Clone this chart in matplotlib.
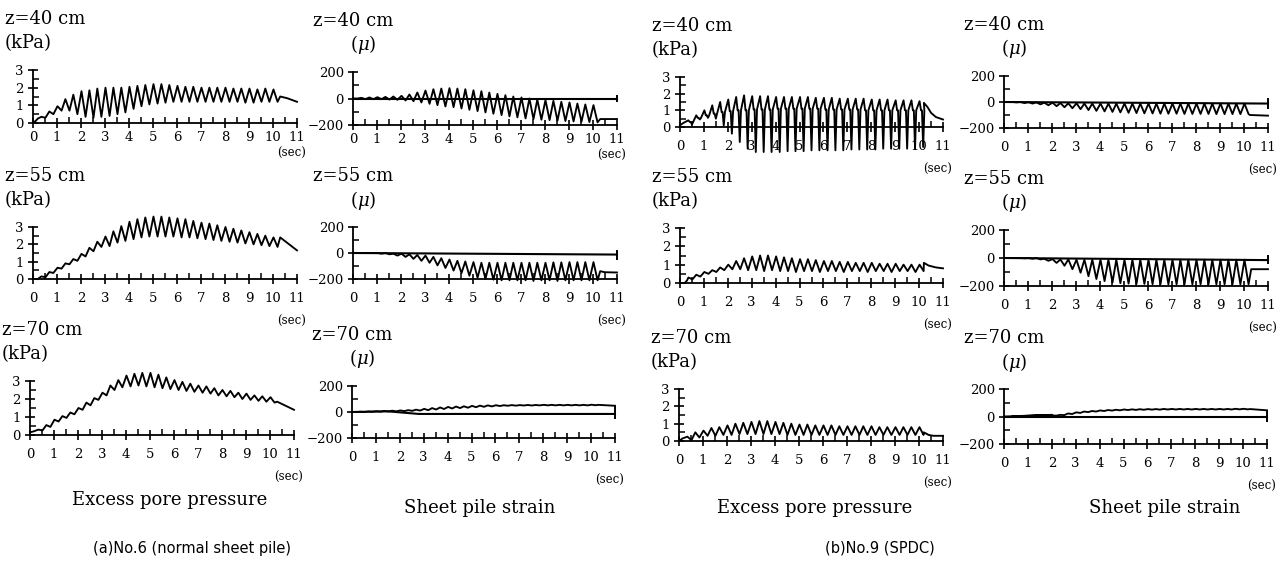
import matplotlib
matplotlib.use('Agg')
import matplotlib.pyplot as plt
from matplotlib.ticker import MultipleLocator

plt.rcParams['font.family'] = 'DejaVu Serif'
plt.rcParams['mathtext.fontset'] = 'dejavuserif'

W, H = 1285, 564

# peak times of the ~3 Hz shaking cycles (sec), trough follows half a cycle later
peak_t = [0.35, 0.68, 1.02, 1.35, 1.68, 2.02, 2.35, 2.68, 3.02, 3.35,
          3.68, 4.02, 4.35, 4.68, 5.02, 5.35, 5.68, 6.02, 6.35, 6.68,
          7.02, 7.35, 7.68, 8.02, 8.35, 8.68, 9.02, 9.35, 9.68, 10.02]
half_cycle = 0.17

# ---------- (a) No.6 normal sheet pile ----------
# excess pore pressure z=40 (kPa)
a40p_head_t = [0.0, 0.1, 0.2]
a40p_head_y = [0.05, 0.1, 0.25]
a40p_peak = [0.35, 0.65, 0.95, 1.35, 1.6, 1.8, 1.85, 1.95, 2.0, 2.0,
             2.0, 2.05, 2.1, 2.15, 2.2, 2.2, 2.15, 2.1, 2.05, 2.05,
             2.0, 2.0, 2.0, 2.0, 1.95, 1.95, 1.95, 1.9, 1.95, 1.9]
a40p_trough = [0.3, 0.5, 0.7, 0.7, 0.5, 0.35, 0.3, 0.35, 0.4, 0.5,
               0.6, 0.8, 0.95, 1.05, 1.1, 1.15, 1.2, 1.2, 1.2, 1.2,
               1.2, 1.2, 1.2, 1.2, 1.2, 1.15, 1.15, 1.2, 1.2, 1.2]
a40p_tail_t = [10.3, 10.6, 11.0]
a40p_tail_y = [1.5, 1.4, 1.2]

# sheet pile strain z=40 (micro)
a40s_head_t = [0.0, 0.2]
a40s_head_y = [0, 0]
a40s_peak = [5, 8, 10, 12, 15, 20, 30, 45, 60, 70,
             75, 78, 75, 70, 62, 55, 45, 35, 25, 15,
             8, 0, -8, -12, -18, -25, -30, -38, -45, -50]
a40s_trough = [-5, -5, -5, -8, -10, -15, -20, -30, -40, -50,
               -60, -65, -75, -85, -95, -105, -115, -125, -135, -142,
               -150, -155, -160, -163, -167, -170, -173, -175, -178, -180]
a40s_tail_t = [10.3, 11.0]
a40s_tail_y = [-155, -155]
a40s_ref_t = [0, 11]
a40s_ref_y = [0, 0]
a40s_bar = [-25, 30]

# excess pore pressure z=55
a55p_head_t = [0.2]
a55p_head_y = [0.0]
a55p_peak = [0.15, 0.4, 0.65, 0.9, 1.15, 1.45, 1.8, 2.15, 2.45, 2.75,
             3.05, 3.3, 3.45, 3.55, 3.6, 3.6, 3.55, 3.5, 3.45, 3.35,
             3.25, 3.2, 3.1, 3.0, 2.9, 2.8, 2.7, 2.6, 2.5, 2.4]
a55p_trough = [0.1, 0.35, 0.6, 0.85, 1.05, 1.3, 1.6, 1.85, 1.9, 2.1,
               2.2, 2.3, 2.4, 2.45, 2.45, 2.45, 2.45, 2.4, 2.4, 2.35,
               2.3, 2.25, 2.2, 2.15, 2.1, 2.05, 2.0, 1.95, 1.9, 1.85]
a55p_tail_t = [10.3, 11.0]
a55p_tail_y = [2.4, 1.65]

# sheet pile strain z=55
a55s_head_t = [0.0, 0.2]
a55s_head_y = [0, 0]
a55s_peak = [0, 0, 0, 0, -5, -5, -10, -15, -20, -30,
             -40, -50, -60, -65, -70, -75, -75, -75, -75, -75,
             -75, -75, -75, -75, -72, -72, -70, -70, -70, -70]
a55s_trough = [0, 0, -5, -10, -20, -30, -45, -60, -75, -95,
               -115, -135, -155, -175, -190, -200, -205, -210, -210, -210,
               -210, -215, -210, -210, -215, -210, -210, -210, -210, -210]
a55s_tail_t = [10.3, 10.5, 11.0]
a55s_tail_y = [-140, -148, -150]
a55s_ref_t = [0, 11]
a55s_ref_y = [0, -12]
a55s_bar = [-50, 25]

# excess pore pressure z=70
a70p_head_t = [0.0, 0.15]
a70p_head_y = [0.15, 0.2]
a70p_peak = [0.3, 0.55, 0.85, 1.05, 1.25, 1.5, 1.8, 2.05, 2.35, 2.75,
             3.05, 3.3, 3.4, 3.45, 3.45, 3.35, 3.2, 3.05, 2.95, 2.85,
             2.75, 2.7, 2.6, 2.5, 2.45, 2.35, 2.3, 2.2, 2.15, 2.1]
a70p_trough = [0.25, 0.45, 0.75, 0.95, 1.15, 1.4, 1.65, 1.95, 2.2, 2.5,
               2.65, 2.7, 2.75, 2.7, 2.65, 2.6, 2.55, 2.5, 2.45, 2.4,
               2.35, 2.3, 2.2, 2.15, 2.1, 2.0, 1.95, 1.9, 1.85, 1.8]
a70p_tail_t = [10.3, 11.0]
a70p_tail_y = [1.85, 1.4]

# sheet pile strain z=70
a70s_head_t = [0.0, 0.2]
a70s_head_y = [0, 0]
a70s_peak = [2, 4, 6, 8, 10, 12, 14, 18, 24, 30,
             35, 39, 42, 44, 47, 49, 51, 52, 52, 53,
             53, 54, 54, 55, 55, 55, 55, 55, 55, 56]
a70s_trough = [0, 2, 3, 4, 5, 7, 9, 11, 14, 19,
               23, 27, 30, 33, 37, 40, 43, 46, 48, 49,
               50, 50, 51, 51, 51, 51, 51, 51, 51, 52]
a70s_tail_t = [10.3, 11.0]
a70s_tail_y = [55, 48]
a70s_ref_t = [0, 1.5, 2.8, 11]
a70s_ref_y = [0, 5, -15, -15]
a70s_bar = [-55, 50]

# ---------- (b) No.9 SPDC ----------
b40p_head_t = [0.0, 0.15]
b40p_head_y = [0.1, 0.25]
b40p_peak = [0.4, 0.7, 1.0, 1.3, 1.5, 1.65, 1.8, 1.9, 1.85, 1.85,
             1.85, 1.8, 1.8, 1.8, 1.8, 1.8, 1.75, 1.75, 1.75, 1.7,
             1.7, 1.7, 1.7, 1.65, 1.65, 1.65, 1.6, 1.6, 1.6, 1.55]
b40p_base = [0.3, 0.55, 0.7, 0.8, 0.9, 0.95, 1.0, 1.0, 1.05, 1.05,
             1.05, 1.1, 1.1, 1.1, 1.1, 1.1, 1.1, 1.05, 1.05, 1.05,
             1.05, 1.05, 1.0, 1.0, 1.0, 1.0, 1.0, 1.0, 1.0, 1.0]
b40p_trough = [0.15, 0.45, 0.55, 0.5, 0.1, -0.4, -0.9, -1.3, -1.5, -1.5,
               -1.5, -1.5, -1.45, -1.45, -1.45, -1.4, -1.4, -1.4, -1.4, -1.4,
               -1.35, -1.35, -1.35, -1.35, -1.3, -1.3, -1.3, -1.3, -1.3, -1.2]
b40p_tail_t = [10.2, 10.35, 10.5, 10.7, 11.0]
b40p_tail_y = [1.45, 1.2, 0.85, 0.6, 0.45]

b40s_head_t = [0.0, 0.2]
b40s_head_y = [0, 0]
b40s_peak = [0, 0, -2, -3, -5, -5, -8, -10, -10, -12,
             -12, -12, -12, -12, -12, -12, -12, -12, -12, -12,
             -12, -12, -12, -12, -12, -12, -12, -12, -12, -12]
b40s_trough = [-3, -8, -12, -18, -25, -32, -40, -48, -55, -62,
               -68, -72, -76, -80, -83, -85, -87, -88, -90, -90,
               -90, -92, -92, -92, -92, -93, -93, -93, -93, -93]
b40s_tail_t = [10.25, 11.0]
b40s_tail_y = [-100, -105]
b40s_ref_t = [0, 11]
b40s_ref_y = [0, -12]
b40s_bar = [-55, 30]

b55p_head_t = [0.2, 0.3]
b55p_head_y = [0.0, 0.15]
b55p_peak = [0.3, 0.45, 0.6, 0.7, 0.85, 1.0, 1.2, 1.35, 1.45, 1.5,
             1.5, 1.45, 1.4, 1.35, 1.3, 1.3, 1.25, 1.2, 1.2, 1.15,
             1.15, 1.1, 1.1, 1.1, 1.05, 1.05, 1.05, 1.0, 1.0, 1.0]
b55p_trough = [0.2, 0.35, 0.5, 0.6, 0.7, 0.75, 0.75, 0.7, 0.7, 0.65,
               0.7, 0.65, 0.65, 0.6, 0.65, 0.65, 0.6, 0.65, 0.65, 0.6,
               0.65, 0.65, 0.6, 0.65, 0.65, 0.6, 0.65, 0.65, 0.6, 0.65]
b55p_tail_t = [10.2, 10.4, 10.7, 11.0]
b55p_tail_y = [1.1, 0.95, 0.85, 0.8]

b55s_head_t = [0.0, 0.2]
b55s_head_y = [0, 0]
b55s_peak = [0, 0, 0, 0, -5, -8, -10, -10, -12, -12,
             -12, -12, -12, -12, -12, -12, -12, -12, -12, -12,
             -12, -12, -12, -12, -12, -12, -12, -12, -12, -12]
b55s_trough = [0, -2, -5, -10, -20, -35, -55, -80, -105, -130,
               -150, -165, -175, -180, -183, -185, -185, -187, -187, -188,
               -188, -188, -188, -188, -188, -188, -188, -188, -188, -188]
b55s_tail_t = [10.3, 11.0]
b55s_tail_y = [-80, -80]
b55s_ref_t = [0, 11]
b55s_ref_y = [0, -15]
b55s_bar = [-40, 20]

b70p_head_t = [0.0, 0.15]
b70p_head_y = [0.0, 0.15]
b70p_peak = [0.25, 0.5, 0.6, 0.75, 0.8, 0.9, 1.0, 1.05, 1.1, 1.15,
             1.15, 1.1, 1.05, 1.0, 0.95, 0.95, 0.9, 0.9, 0.9, 0.85,
             0.85, 0.85, 0.85, 0.85, 0.8, 0.8, 0.8, 0.8, 0.8, 0.8]
b70p_trough = [0.05, 0.2, 0.3, 0.3, 0.35, 0.35, 0.4, 0.4, 0.4, 0.4,
               0.4, 0.4, 0.35, 0.35, 0.35, 0.35, 0.35, 0.35, 0.35, 0.35,
               0.35, 0.35, 0.35, 0.35, 0.35, 0.35, 0.35, 0.35, 0.35, 0.35]
b70p_tail_t = [10.2, 10.4, 10.6, 11.0]
b70p_tail_y = [0.5, 0.35, 0.3, 0.3]

b70s_head_t = [0.0, 1.0, 2.0]
b70s_head_y = [0, 5, 12]
b70s_peak = [2, 3, 4, 5, 6, 8, 12, 22, 30, 36,
             40, 44, 47, 49, 51, 52, 53, 54, 54, 55,
             55, 55, 55, 55, 55, 55, 55, 55, 56, 56]
b70s_trough = [0, 1, 2, 3, 4, 6, 10, 18, 26, 32,
               36, 40, 43, 45, 47, 48, 49, 50, 50, 51,
               51, 51, 51, 51, 51, 51, 51, 51, 52, 52]
b70s_tail_t = [10.3, 11.0]
b70s_tail_y = [54, 45]
b70s_ref_t = [0, 11]
b70s_ref_y = [0, 0]
b70s_bar = [-37, 45]

depth_labels = ['z=40 cm', 'z=55 cm', 'z=70 cm']
col_titles = ['Excess pore pressure', 'Sheet pile strain']
case_titles = ['(a)No.6 (normal sheet pile)', '(b)No.9 (SPDC)']


def trace(head_t, head_y, peak, trough, tail_t, tail_y, base=None):
    t = list(head_t)
    y = list(head_y)
    for i, (tp, p, q) in enumerate(zip(peak_t, peak, trough)):
        if base is None:
            t += [tp, tp + half_cycle]
            y += [p, q]
        else:
            # spike up, settle on the base, spike down, back to the base
            t += [tp, tp + 0.06, tp + 0.10, tp + 0.15, tp + 0.20]
            y += [p, base[i], base[i], q, base[i]]
    return t + list(tail_t), y + list(tail_y)


fig = plt.figure(figsize=(W / 100, H / 100), dpi=100)


def px_axes(x0, y0, x1, y1):
    return fig.add_axes([x0 / W, 1 - y1 / H, (x1 - x0) / W, (y1 - y0) / H])


def style_axes(ax, kind, xpad):
    ax.set_xlim(0, 11)
    for s in ['top', 'right']:
        ax.spines[s].set_visible(False)
    for s in ['left', 'bottom']:
        ax.spines[s].set_linewidth(1.3)
    ax.xaxis.set_major_locator(MultipleLocator(1))
    ax.xaxis.set_minor_locator(MultipleLocator(0.5))
    if kind == 'p':
        ax.set_ylim(0, 3)
        ax.yaxis.set_major_locator(MultipleLocator(1))
        ax.yaxis.set_minor_locator(MultipleLocator(0.5))
    else:
        ax.set_ylim(-200, 200)
        ax.yaxis.set_major_locator(MultipleLocator(200))
        ax.yaxis.set_minor_locator(MultipleLocator(100))
    ax.tick_params(axis='x', which='major', direction='inout', length=7, width=1.2,
                   labelsize=9.5, pad=xpad)
    ax.tick_params(axis='x', which='minor', direction='in', length=4, width=1.1)
    ax.tick_params(axis='y', which='major', direction='inout', length=7, width=1.2,
                   labelsize=9.5, pad=3)
    ax.tick_params(axis='y', which='minor', direction='in', length=4, width=1.1)
    ax.patch.set_alpha(0)


# panel rectangles in reference pixels: x(0), y(top), x(11), y(bottom)
rects = {
    ('a', 0, 'p'): (33, 70, 297, 123), ('a', 0, 's'): (353, 72, 617, 125),
    ('a', 1, 'p'): (33, 227, 297, 279), ('a', 1, 's'): (353, 227, 617, 279),
    ('a', 2, 'p'): (30, 381, 294, 435), ('a', 2, 's'): (352, 386, 615, 438),
    ('b', 0, 'p'): (680, 77, 943, 127), ('b', 0, 's'): (1004, 76, 1268, 128),
    ('b', 1, 'p'): (680, 228, 943, 283), ('b', 1, 's'): (1004, 230, 1268, 286),
    ('b', 2, 'p'): (679, 389, 943, 441), ('b', 2, 's'): (1004, 389, 1267, 444),
}

series = {
    ('a', 0, 'p'): trace(a40p_head_t, a40p_head_y, a40p_peak, a40p_trough, a40p_tail_t, a40p_tail_y),
    ('a', 0, 's'): trace(a40s_head_t, a40s_head_y, a40s_peak, a40s_trough, a40s_tail_t, a40s_tail_y),
    ('a', 1, 'p'): trace(a55p_head_t, a55p_head_y, a55p_peak, a55p_trough, a55p_tail_t, a55p_tail_y),
    ('a', 1, 's'): trace(a55s_head_t, a55s_head_y, a55s_peak, a55s_trough, a55s_tail_t, a55s_tail_y),
    ('a', 2, 'p'): trace(a70p_head_t, a70p_head_y, a70p_peak, a70p_trough, a70p_tail_t, a70p_tail_y),
    ('a', 2, 's'): trace(a70s_head_t, a70s_head_y, a70s_peak, a70s_trough, a70s_tail_t, a70s_tail_y),
    ('b', 0, 'p'): trace(b40p_head_t, b40p_head_y, b40p_peak, b40p_trough, b40p_tail_t, b40p_tail_y,
                         base=b40p_base),
    ('b', 0, 's'): trace(b40s_head_t, b40s_head_y, b40s_peak, b40s_trough, b40s_tail_t, b40s_tail_y),
    ('b', 1, 'p'): trace(b55p_head_t, b55p_head_y, b55p_peak, b55p_trough, b55p_tail_t, b55p_tail_y),
    ('b', 1, 's'): trace(b55s_head_t, b55s_head_y, b55s_peak, b55s_trough, b55s_tail_t, b55s_tail_y),
    ('b', 2, 'p'): trace(b70p_head_t, b70p_head_y, b70p_peak, b70p_trough, b70p_tail_t, b70p_tail_y),
    ('b', 2, 's'): trace(b70s_head_t, b70s_head_y, b70s_peak, b70s_trough, b70s_tail_t, b70s_tail_y),
}

refs = {
    ('a', 0): (a40s_ref_t, a40s_ref_y, a40s_bar), ('a', 1): (a55s_ref_t, a55s_ref_y, a55s_bar),
    ('a', 2): (a70s_ref_t, a70s_ref_y, a70s_bar), ('b', 0): (b40s_ref_t, b40s_ref_y, b40s_bar),
    ('b', 1): (b55s_ref_t, b55s_ref_y, b55s_bar), ('b', 2): (b70s_ref_t, b70s_ref_y, b70s_bar),
}

for (case, row, kind), (x0, y0, x1, y1) in rects.items():
    ax = px_axes(x0, y0, x1, y1)
    xpad = 2 if (case == 'a' and row == 0) else 6
    style_axes(ax, kind, xpad)
    t, y = series[(case, row, kind)]
    ax.plot(t, y, color='black', lw=1.35, clip_on=False)
    if kind == 's':
        rt, ry, bar = refs[(case, row)]
        ax.plot(rt, ry, color='black', lw=1.5, clip_on=False)
        ax.vlines(rt[-1], bar[0], bar[1], color='black', lw=1.4, clip_on=False)
    # header texts
    if kind == 'p':
        zx, ux, unit = x0 - 28, x0 - 28, '(kPa)'
    else:
        zx, ux, unit = x0 - 40, x0 - 3, r'($\mu$)'
    fig.text(zx / W, 1 - (y0 - 51) / H, depth_labels[row], fontsize=13, va='center', ha='left')
    fig.text(ux / W, 1 - (y0 - 27) / H, unit, fontsize=13, va='center', ha='left')
    sec_dy = 30 if (case == 'a' and row == 0) else 42
    fig.text((x1 + 9) / W, 1 - (y1 + sec_dy) / H, '(sec)', fontsize=8.5, va='center', ha='right')

fig.text(170 / W, 1 - 500 / H, col_titles[0], fontsize=13, ha='center', va='center')
fig.text(480 / W, 1 - 508 / H, col_titles[1], fontsize=13, ha='center', va='center')
fig.text(815 / W, 1 - 508 / H, col_titles[0], fontsize=13, ha='center', va='center')
fig.text(1165 / W, 1 - 508 / H, col_titles[1], fontsize=13, ha='center', va='center')
fig.text(192 / W, 1 - 548 / H, case_titles[0], fontsize=10.5, ha='center', va='center',
         family='DejaVu Sans')
fig.text(880 / W, 1 - 548 / H, case_titles[1], fontsize=10.5, ha='center', va='center',
         family='DejaVu Sans')

fig.savefig('out.png', dpi=100, facecolor='white')
